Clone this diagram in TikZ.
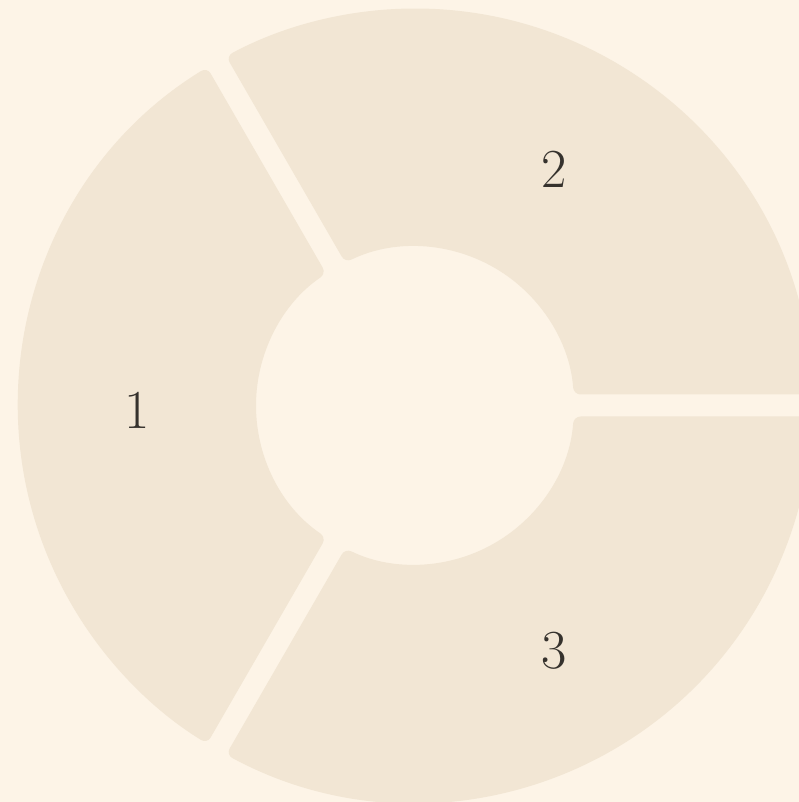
\documentclass[tikz,border=0pt]{standalone}
\usepackage{tikz}
\definecolor{paper}{HTML}{FDF4E7}
\definecolor{ring}{HTML}{F2E6D4}
\definecolor{ink}{HTML}{36322D}
\begin{document}
\begin{tikzpicture}[
    x=1pt, y=1pt,
    % Define the style for the ring pieces (soft fill, rounded ends)
    piece/.style={fill=ring, rounded corners=7pt},
    % Define the style for the numbers
    num/.style={text=ink, font=\fontsize{55}{60}\selectfont}
]

    % --- Frame and background ---
    \useasboundingbox (0,0) rectangle (799,802);
    \clip (0,0) rectangle (799,802);
    \fill[paper] (0,0) rectangle (799,802);

    % --- Ring: three pieces with a gap between them ---
    \begin{scope}[shift={(415,396.5)}]
        \coordinate (c) at (0,0);
        \def\Rout{397}
        \def\Rin{159}
        % half-gap angles on the outer and inner circle
        \pgfmathsetmacro{\dOut}{asin(11/\Rout)}
        \pgfmathsetmacro{\dIn}{asin(11/\Rin)}

        \foreach \a/\b/\n in {120/240/1, 0/120/2, -120/0/3} {
            \fill[piece] (\a+\dOut:\Rout)
                arc[start angle=\a+\dOut, end angle=\b-\dOut, radius=\Rout pt]
                -- (\b-\dIn:\Rin)
                arc[start angle=\b-\dIn, end angle=\a+\dIn, radius=\Rin pt]
                -- cycle;
            \node[num, yshift=-5pt] (seg\n) at ({(\a+\b)/2}:278) {\n};
        }
    \end{scope}

\end{tikzpicture}
\end{document}
